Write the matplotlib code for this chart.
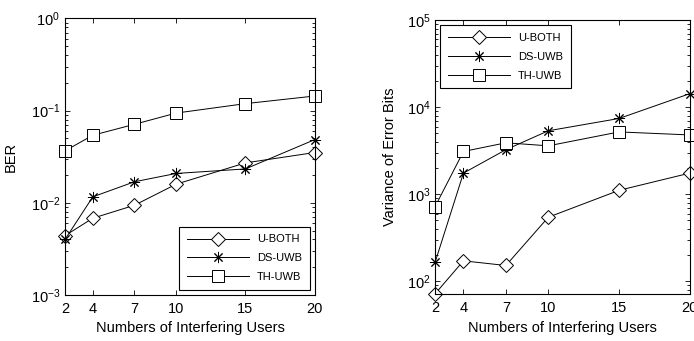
import matplotlib
matplotlib.use("Agg")
import matplotlib.pyplot as plt
from matplotlib.ticker import LogLocator, NullFormatter

plt.rcParams['font.family'] = ['Liberation Sans', 'DejaVu Sans']

users = [2, 4, 7, 10, 15, 20]
user_labels = ['2', '4', '7', '10', '15', '20']
series_names = ['U-BOTH', 'DS-UWB', 'TH-UWB']

ber_uboth = [0.0044, 0.0068, 0.0094, 0.0159, 0.0271, 0.0351]
ber_ds = [0.0040, 0.0116, 0.0169, 0.0208, 0.0233, 0.0485]
ber_th = [0.0366, 0.054, 0.071, 0.094, 0.119, 0.144]

var_uboth = [72, 172, 152, 545, 1110, 1750]
var_ds = [166, 1750, 3250, 5360, 7420, 14300]
var_th = [723, 3100, 3900, 3600, 5200, 4800]

FS = 10.5

fig = plt.figure(figsize=(6.94, 3.41), dpi=100)
ax1 = fig.add_axes([0.0937, 0.135, 0.360, 0.811])
ax2 = fig.add_axes([0.627, 0.137, 0.367, 0.804])

def style(ax):
    ax.set_yscale('log')
    ax.set_xlim(2, 20)
    ax.set_xticks(users)
    ax.set_xticklabels(user_labels)
    ax.tick_params(which='both', direction='in', top=True, right=True, labelsize=FS, width=0.6)
    ax.tick_params(which='major', length=3.5)
    ax.tick_params(axis='x', which='major', pad=5)
    ax.tick_params(which='minor', length=2)
    ax.yaxis.set_major_locator(LogLocator(base=10))
    ax.yaxis.set_minor_locator(LogLocator(base=10, subs=range(2, 10)))
    ax.yaxis.set_minor_formatter(NullFormatter())
    for s in ax.spines.values():
        s.set_linewidth(0.8)
    ax.set_xlabel('Numbers of Interfering Users', fontsize=FS, labelpad=4)

marker_styles = [
    dict(marker='D', markersize=7.5, markerfacecolor='white', markeredgecolor='black', markeredgewidth=0.7),
    dict(marker=(8, 2, 0), markersize=8, markeredgecolor='black', markeredgewidth=0.7),
    dict(marker='s', markersize=8, markerfacecolor='white', markeredgecolor='black', markeredgewidth=0.7),
]

for ax, data in [(ax1, [ber_uboth, ber_ds, ber_th]), (ax2, [var_uboth, var_ds, var_th])]:
    for name, d, mk in zip(series_names, data, marker_styles):
        ax.plot(users, d, color='black', linewidth=0.7, label=name, clip_on=False, **mk)
    style(ax)

ax1.set_ylim(1e-3, 1e0)
ax1.set_ylabel('BER', fontsize=FS, labelpad=9)
ax2.set_ylim(71, 1e5)
ax2.set_ylabel('Variance of Error Bits', fontsize=FS, labelpad=7)

for ax, loc in [(ax1, 'lower right'), (ax2, 'upper left')]:
    leg = ax.legend(loc=loc, fontsize=8, handlelength=5.6, fancybox=False, framealpha=1,
                    edgecolor='black', borderpad=0.7, labelspacing=0.8, handletextpad=0.7,
                    borderaxespad=0.45)
    leg.get_frame().set_linewidth(0.8)

fig.savefig('out.png', dpi=100)
